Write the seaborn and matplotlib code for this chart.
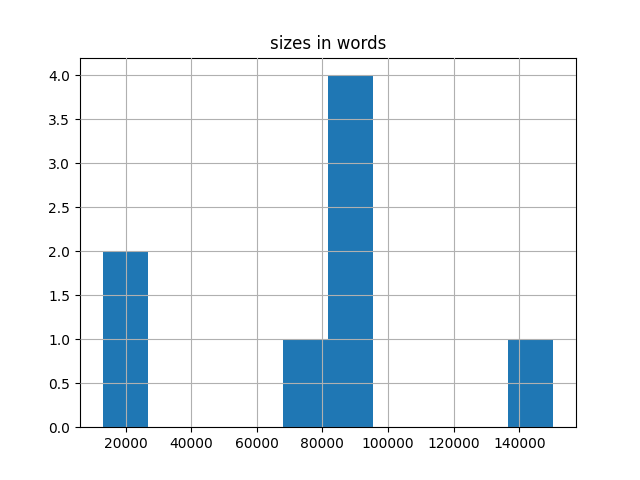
import numpy as np
import pandas as pd
import matplotlib
matplotlib.use("Agg")
import matplotlib.pyplot as plt
import seaborn as sns

# document sizes in words
titles = ["a", "b", "c", "d", "e", "f", "g", "h"]
words = [13000, 16000, 76000, 84000, 87000, 90000, 93000, 150400]

df = pd.DataFrame({"title": titles, "words": words})

fig, ax = plt.subplots(figsize=(6.4, 4.8), dpi=100)
sns.histplot(data=df, x="words", bins=10, ax=ax, color="#1f77b4",
             alpha=1, linewidth=0, edgecolor="none")
ax.grid(True)
ax.set_axisbelow(False)
ax.set_xlabel("")
ax.set_ylabel("")
ax.set_title("sizes in words")

plt.savefig("out.png")
